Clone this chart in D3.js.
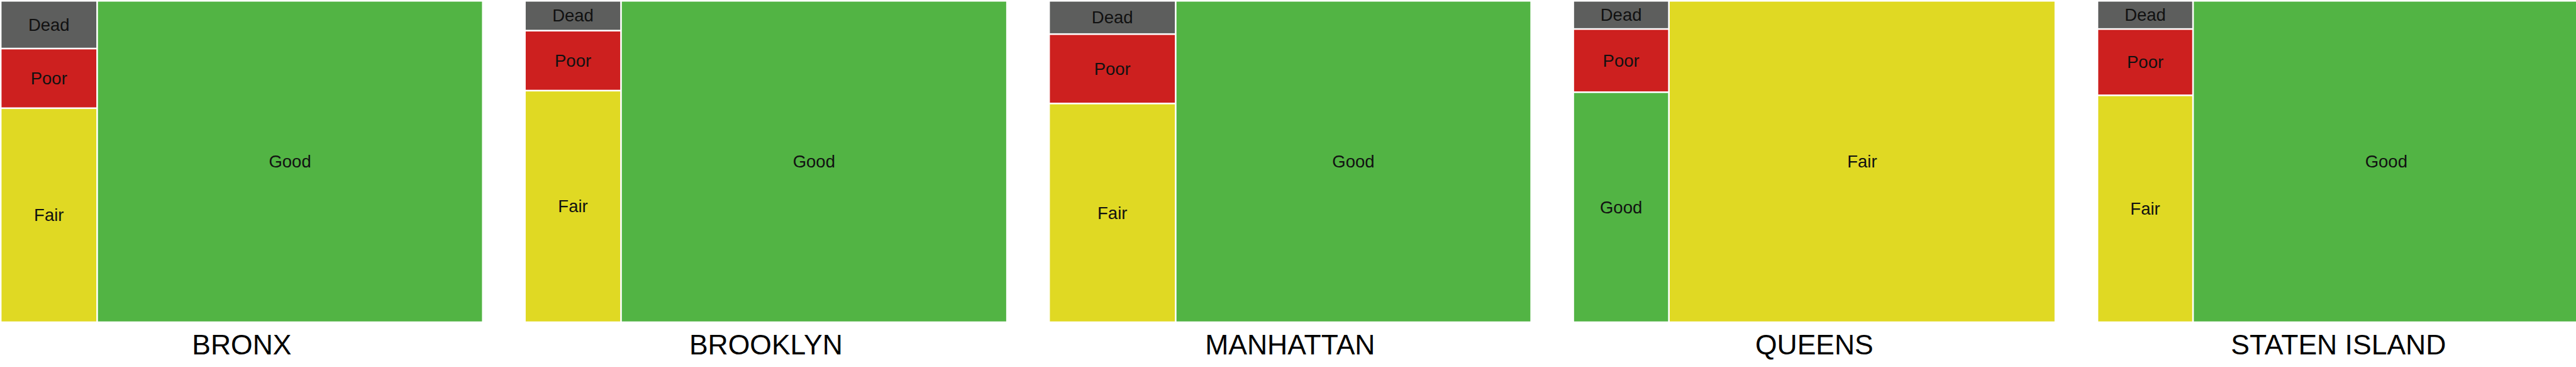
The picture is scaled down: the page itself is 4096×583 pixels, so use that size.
<!DOCTYPE html>
<html>
<head>
<meta charset="utf-8">
<script src="https://cdn.jsdelivr.net/npm/d3@7"></script>
<style>
  html, body { margin: 0; padding: 0; background: #fff; overflow: hidden; }
  svg { display: block; }
</style>
</head>
<body>
<svg id="chart" width="4096" height="583"></svg>
<script>
// ---- data (percent of trees by health) ----
const boroughs   = ["BRONX", "BROOKLYN", "MANHATTAN", "QUEENS", "STATEN ISLAND"];
const categories = ["Dead", "Poor", "Fair", "Good"];
const deadValues = [2.97, 1.85, 2.72, 1.74, 1.74];
const poorValues = [3.71, 3.72, 5.67, 3.90, 4.09];
const fairValues = [13.32, 14.37, 17.87, 80.15, 14.00];
const goodValues = [80.00, 80.06, 73.74, 14.20, 80.17];

const seriesByCategory = { Dead: deadValues, Poor: poorValues, Fair: fairValues, Good: goodValues };
const colors = { Dead: "#5d5e5d", Poor: "#cd201f", Fair: "#e0d923", Good: "#52b444" };

const svg = d3.select("#chart");
const mapTop = 2.6, mapH = 508;

const x = d3.scaleBand()
  .domain(boroughs)
  .range([2.44, 4100.3])
  .paddingInner(0.0834)
  .paddingOuter(0);

const color = d3.scaleOrdinal().domain(categories).range(categories.map(c => colors[c]));

boroughs.forEach((b, i) => {
  const data = {
    name: b,
    children: categories.map(c => ({ name: c, value: seriesByCategory[c][i] }))
  };
  const root = d3.hierarchy(data)
    .sum(d => d.value || 0)
    .sort((a, b2) => a.value - b2.value);

  d3.treemap()
    .tile(d3.treemapSquarify)
    .size([x.bandwidth(), mapH])
    .paddingInner(2.6)(root);

  const g = svg.append("g").attr("transform", `translate(${x(b)},${mapTop})`);

  const cell = g.selectAll("g.cell").data(root.leaves()).join("g").attr("class", "cell");
  cell.append("rect")
    .attr("x", d => d.x0)
    .attr("y", d => d.y0)
    .attr("width", d => d.x1 - d.x0)
    .attr("height", d => d.y1 - d.y0)
    .attr("fill", d => color(d.data.name));
  cell.append("text")
    .attr("x", d => (d.x0 + d.x1) / 2)
    .attr("y", d => (d.y0 + d.y1) / 2)
    .attr("text-anchor", "middle")
    .attr("dominant-baseline", "central")
    .attr("font-family", "'Liberation Sans', Arial, sans-serif")
    .attr("font-size", 27.5)
    .attr("fill", "#111")
    .text(d => d.data.name);

  svg.append("text")
    .attr("x", x(b) + x.bandwidth() / 2)
    .attr("y", 563)
    .attr("text-anchor", "middle")
    .attr("font-family", "'Liberation Sans', Arial, sans-serif")
    .attr("font-size", 44.5)
    .attr("fill", "#000")
    .text(b);
});
</script>
</body>
</html>
